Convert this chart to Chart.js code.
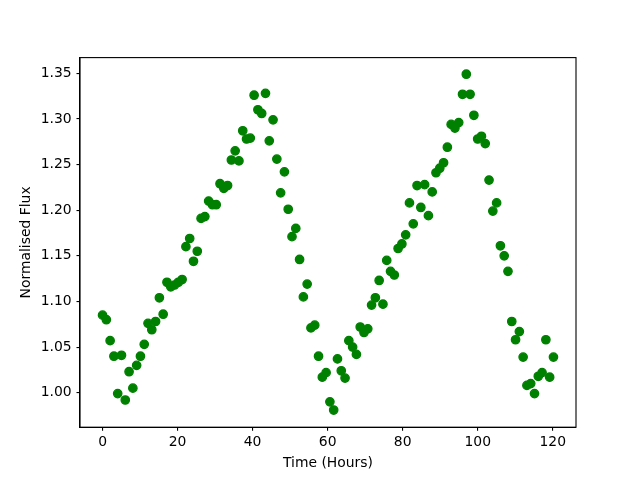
<!DOCTYPE html>
<html>
<head>
<meta charset="utf-8">
<script src="https://cdn.jsdelivr.net/npm/chart.js@4.4.0/dist/chart.umd.min.js"></script>
<style>
  html, body { margin: 0; padding: 0; background: #fff; }
  #wrap { width: 640px; height: 480px; }
</style>
</head>
<body>
<div id="wrap"><canvas id="myChart" width="640" height="480"></canvas></div>
<script>
// time of each sample, hours
const times = [
    0, 1.01, 2.02, 3.03, 4.04, 5.05, 6.06, 7.07, 8.08, 9.09,
    10.1, 11.11, 12.12, 13.13, 14.14, 15.15, 16.16, 17.17, 18.18, 19.19,
    20.2, 21.21, 22.22, 23.23, 24.24, 25.25, 26.26, 27.27, 28.28, 29.29,
    30.3, 31.31, 32.32, 33.33, 34.34, 35.35, 36.36, 37.37, 38.38, 39.39,
    40.4, 41.41, 42.42, 43.43, 44.44, 45.45, 46.46, 47.47, 48.48, 49.49,
    50.5, 51.51, 52.52, 53.53, 54.54, 55.55, 56.56, 57.57, 58.58, 59.59,
    60.6, 61.61, 62.62, 63.63, 64.64, 65.65, 66.66, 67.67, 68.68, 69.69,
    70.7, 71.71, 72.72, 73.73, 74.74, 75.75, 76.76, 77.77, 78.78, 79.79,
    80.8, 81.81, 82.82, 83.83, 84.84, 85.85, 86.86, 87.87, 88.88, 89.89,
    90.9, 91.91, 92.92, 93.93, 94.94, 95.95, 96.96, 97.97, 98.98, 99.99,
    101, 102.01, 103.02, 104.03, 105.04, 106.05, 107.06, 108.07, 109.08, 110.09,
    111.1, 112.11, 113.12, 114.13, 115.14, 116.15, 117.16, 118.17, 119.18, 120.19
];

// normalised flux
const flux = [
    1.085, 1.080, 1.057, 1.040, 0.999, 1.041, 0.992, 1.023, 1.005, 1.030,
    1.040, 1.053, 1.076, 1.069, 1.078, 1.104, 1.086, 1.121, 1.116, 1.118,
    1.121, 1.124, 1.160, 1.169, 1.144, 1.155, 1.191, 1.193, 1.210, 1.206,
    1.206, 1.229, 1.224, 1.227, 1.255, 1.265, 1.254, 1.287, 1.278, 1.279,
    1.326, 1.310, 1.306, 1.328, 1.276, 1.299, 1.256, 1.219, 1.242, 1.201,
    1.171, 1.180, 1.146, 1.105, 1.119, 1.071, 1.074, 1.040, 1.017, 1.022,
    0.990, 0.981, 1.037, 1.024, 1.016, 1.057, 1.050, 1.042, 1.072, 1.066,
    1.070, 1.096, 1.104, 1.123, 1.097, 1.145, 1.133, 1.129, 1.158, 1.163,
    1.173, 1.208, 1.185, 1.227, 1.203, 1.228, 1.194, 1.220, 1.241, 1.246,
    1.252, 1.269, 1.294, 1.290, 1.296, 1.327, 1.349, 1.327, 1.304, 1.278,
    1.281, 1.273, 1.233, 1.199, 1.208, 1.161, 1.150, 1.133, 1.078, 1.058,
    1.067, 1.039, 1.008, 1.010, 0.999, 1.018, 1.022, 1.058, 1.017, 1.039
];

const xTicks = [0, 20, 40, 60, 80, 100, 120];
const yTicks = [1.00, 1.05, 1.10, 1.15, 1.20, 1.25, 1.30, 1.35];

const font = { family: "'DejaVu Sans', sans-serif", size: 13.9 };

// box round the plot area, like matplotlib spines
const framePlugin = {
    id: 'frame',
    afterDraw(chart) {
        const a = chart.chartArea;
        const ctx = chart.ctx;
        ctx.save();
        ctx.strokeStyle = '#000';
        ctx.lineWidth = 1.1;
        ctx.strokeRect(a.left, a.top, a.right - a.left, a.bottom - a.top);
        ctx.restore();
    }
};

function drawGraph() {
    let ctx = document.getElementById('myChart');
    let points = times.map((t, i) => ({ x: t, y: flux[i] }));
    new Chart(ctx, {
        type: 'scatter',
        data: {
            datasets: [{
                data: points,
                backgroundColor: 'green',
                borderColor: 'green',
                pointRadius: 4.2,
                borderWidth: 1.3,
                showLine: false
            }]
        },
        options: {
            responsive: false,
            animation: false,
            layout: { padding: { left: 0, top: 57.6, right: 64, bottom: 0 } },
            plugins: { legend: { display: false }, tooltip: { enabled: false } },
            scales: {
                x: {
                    type: 'linear',
                    min: -6.01,
                    max: 126.2,
                    afterFit: (s) => { s.height = 52.8; },
                    afterBuildTicks: (s) => { s.ticks = xTicks.map(v => ({ value: v })); },
                    ticks: { color: '#000', font: font, padding: 3, maxRotation: 0 },
                    grid: { drawOnChartArea: false, drawTicks: true, tickLength: 3.5, color: '#000', lineWidth: 1.1 },
                    border: { display: true, color: '#000', width: 1.1 },
                    title: { display: true, text: 'Time (Hours)', color: '#000', font: font, padding: { top: 0, bottom: 8.5 } }
                },
                y: {
                    type: 'linear',
                    min: 0.9622,
                    max: 1.3672,
                    afterFit: (s) => { s.width = 80; },
                    afterBuildTicks: (s) => { s.ticks = yTicks.map(v => ({ value: v })); },
                    ticks: { color: '#000', font: font, padding: 4.9, callback: (v) => v.toFixed(2) },
                    grid: { drawOnChartArea: false, drawTicks: true, tickLength: 3.5, color: '#000', lineWidth: 1.1 },
                    border: { display: true, color: '#000', width: 1.1 },
                    title: { display: true, text: 'Normalised Flux', color: '#000', font: font, padding: { top: 18.5, bottom: 0 } }
                }
            }
        },
        plugins: [framePlugin]
    });
}

drawGraph();
</script>
</body>
</html>
